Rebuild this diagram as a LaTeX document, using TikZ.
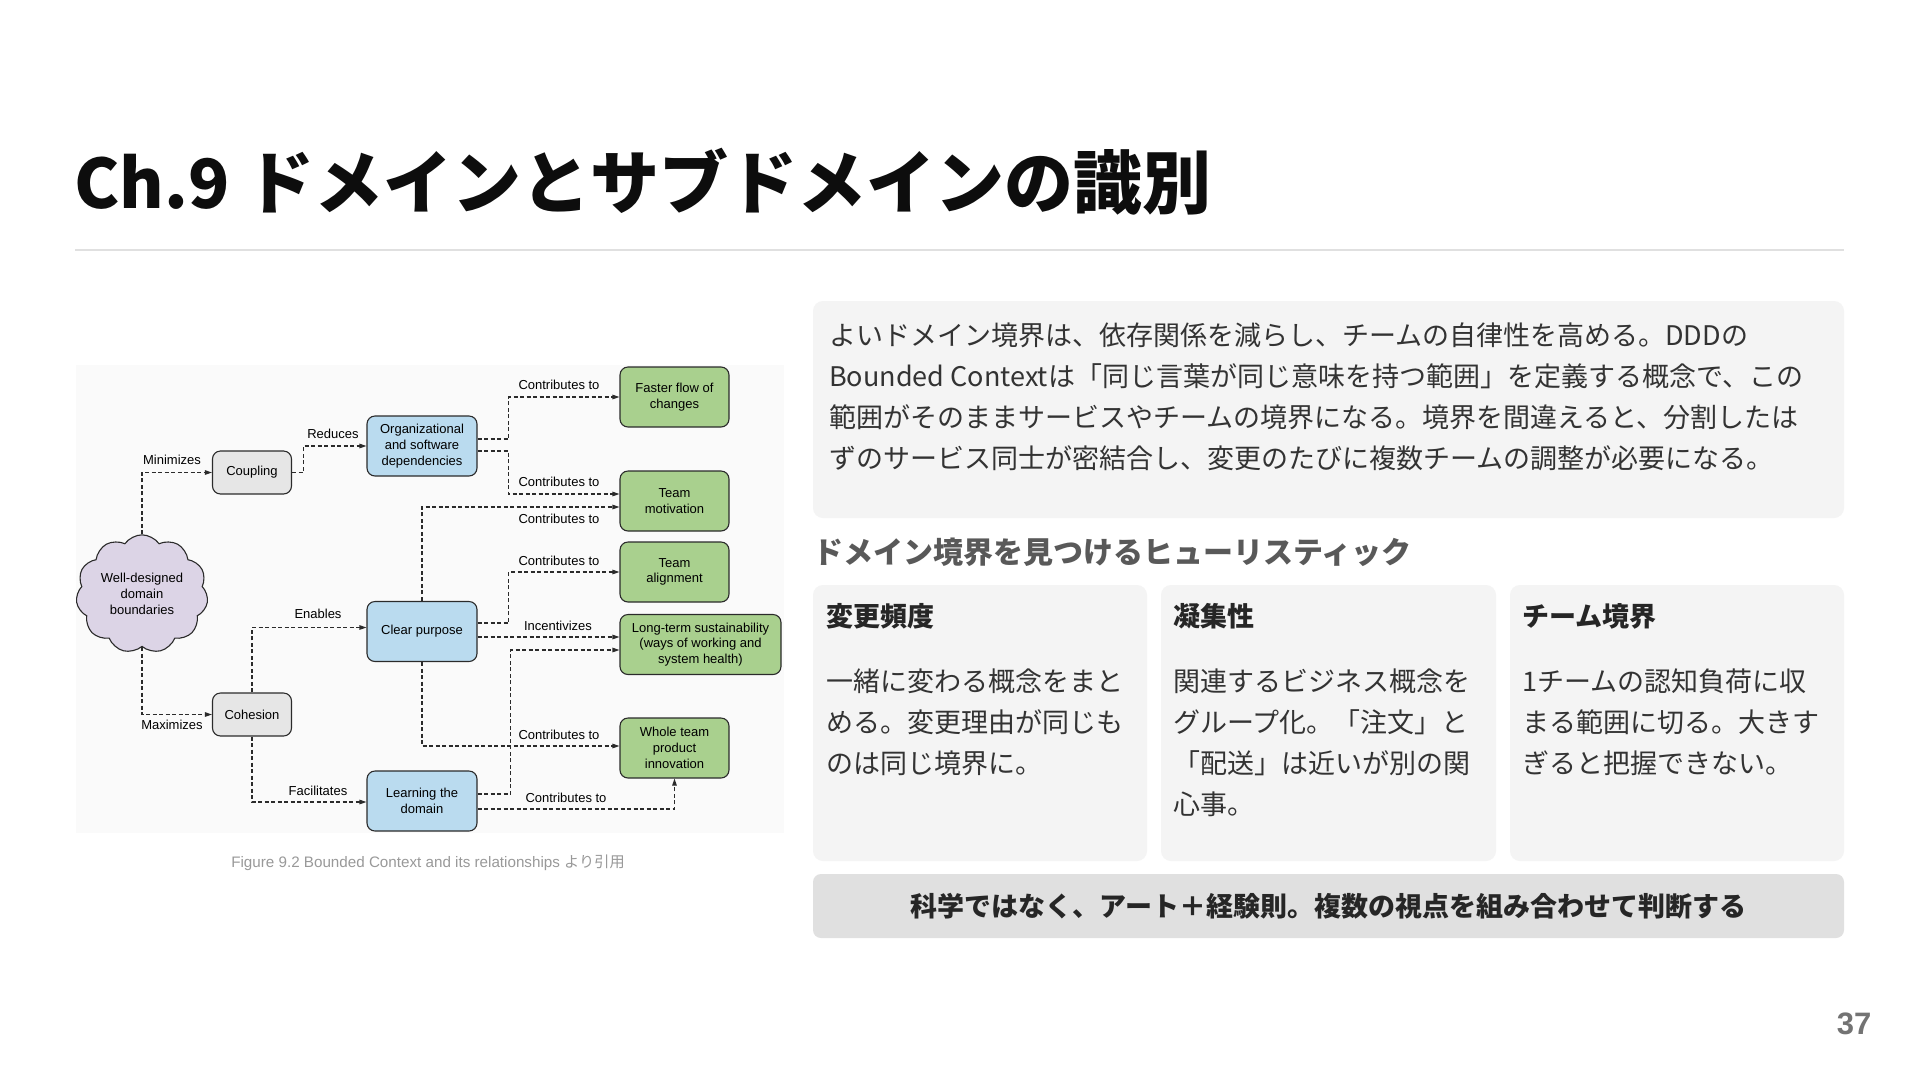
\documentclass[tikz,border=0pt]{standalone}
\usepackage{fontspec}
\setmainfont{Liberation Sans}
\newfontfamily\jp{Noto Sans CJK JP}
\usetikzlibrary{arrows.meta,shapes.symbols}
\definecolor{boxgray}{HTML}{E6E6E6}
\definecolor{boxblue}{HTML}{BADBEF}
\definecolor{boxgreen}{HTML}{A9D08E}
\definecolor{cloudlav}{HTML}{DCD4E6}
\definecolor{panel}{HTML}{F4F4F4}
\definecolor{bar}{HTML}{E0E0E0}
\definecolor{ink}{HTML}{2B2B2B}
\definecolor{bodytxt}{HTML}{333333}
\tikzset{
  dbox/.style={draw=ink, line width=1.1pt, rounded corners=8pt, align=center,
    font=\fontsize{13}{15.7}\selectfont, text=black, inner sep=2pt},
  gbox/.style={dbox, fill=boxgray, minimum width=79pt, minimum height=43pt},
  bbox/.style={dbox, fill=boxblue, minimum width=110pt, minimum height=60pt},
  grbox/.style={dbox, fill=boxgreen, minimum width=109pt, minimum height=60pt},
  conn/.style={draw=ink, line width=1.1pt, dash pattern=on 4pt off 2.5pt,
    -{Triangle[length=7pt,width=4.5pt]}},
  lab/.style={font=\fontsize{13}{15}\selectfont, text=black, inner sep=0pt},
  jptext/.style={font=\jp\fontsize{27}{41}\selectfont, text=bodytxt, align=left, inner sep=0pt, anchor=base west},
  cardtitle/.style={font=\jp\bfseries\fontsize{27}{32}\selectfont, text=black!85, inner sep=0pt, anchor=base west},
  card/.style={fill=panel, rounded corners=10pt, draw=none},
}
\begin{document}
\begin{tikzpicture}[x=1pt,y=-1pt]
\useasboundingbox (0,0) rectangle (1920,1080);
\fill[white] (0,0) rectangle (1920,1080);

% title
\node[anchor=base west, inner sep=0pt, font=\jp\bfseries\fontsize{68}{80}\selectfont, text=black!95] (title) at (74,208) {Ch.9 {\fontsize{69}{80}\selectfont ドメインとサブドメインの識別}};
\draw[bar, line width=1.5pt] (75,250) -- (1844,250);

% diagram background
\fill[black!2] (76,365) rectangle (784,833);

% diagram nodes
\node[cloud, cloud puffs=11, cloud puff arc=110, aspect=1.1, draw=ink, line width=1.1pt, fill=cloudlav,
  minimum width=132pt, minimum height=118pt, align=center, inner sep=0pt,
  font=\fontsize{13}{15.7}\selectfont] (cloud) at (142,594) {Well-designed\\domain\\boundaries};
\node[gbox] (coupling) at (252,472.5) {Coupling};
\node[gbox] (cohesion) at (252,714.5) {Cohesion};
\node[bbox] (org) at (422,446) {Organizational\\and software\\dependencies};
\node[bbox] (clear) at (422,631.5) {Clear purpose};
\node[bbox] (learn) at (422,801) {Learning the\\domain};
\node[grbox] (faster) at (674.5,397) {Faster flow of\\changes};
\node[grbox] (motiv) at (674.5,501) {Team\\motivation};
\node[grbox] (align) at (674.5,572) {Team\\alignment};
\node[grbox, minimum width=161pt] (longterm) at (700.5,644.5) {Long-term sustainability\\(ways of working and\\system health)};
\node[grbox] (whole) at (674.5,748) {Whole team\\product\\innovation};

% connectors
\draw[conn] (cloud.north) |- (coupling.west);
\draw[conn] (coupling.east) -- ++(11,0) |- (org.west);
\draw[conn] ([yshift=7pt]org.east) -- ++(31,0) |- (faster.west);
\draw[conn] ([yshift=-5pt]org.east) -- ++(31,0) |- ([yshift=7pt]motiv.west);
\draw[conn] (clear.north) |- ([yshift=-6pt]motiv.west);
\draw[conn] ([yshift=8.5pt]clear.east) -- ++(31,0) |- (align.west);
\draw[conn] ([yshift=-5.5pt]clear.east) -- ([yshift=7.5pt]longterm.west);
\draw[conn] ([yshift=7pt]learn.east) -- ++(33,0) |- ([yshift=-5.5pt]longterm.west);
\draw[conn] (clear.south) |- ([yshift=2pt]whole.west);
\draw[conn] ([yshift=-8pt]learn.east) -| (whole.south);
\draw[conn] (cloud.south) |- (cohesion.west);
\draw[conn] (cohesion.north) |- ([yshift=4pt]clear.west);
\draw[conn] (cohesion.south) |- ([yshift=-1pt]learn.west);

% labels
\node[lab] (l1) at (172,460) {Minimizes};
\node[lab] (l2) at (333,434) {Reduces};
\node[lab] (l3) at (559,385) {Contributes to};
\node[lab] (l4) at (559,482) {Contributes to};
\node[lab] (l5) at (559,519) {Contributes to};
\node[lab] (l6) at (559,561) {Contributes to};
\node[lab] (l7) at (558,626) {Incentivizes};
\node[lab] (l8) at (559,735) {Contributes to};
\node[lab] (l9) at (566,798) {Contributes to};
\node[lab] (l10) at (172,725) {Maximizes};
\node[lab] (l11) at (318,614) {Enables};
\node[lab] (l12) at (318,791) {Facilitates};

% caption
\node[inner sep=0pt, text=black!40, font=\fontsize{15.2}{17}\selectfont] (caption) at (428,863) {Figure 9.2 Bounded Context and its relationships {\jp より引用}};

% top text panel
\fill[panel, rounded corners=10pt] (813,301) rectangle (1844,518);
\node[jptext] (intro) at (829,468) {よいドメイン境界は、依存関係を減らし、チームの自律性を高める。DDDの\\Bounded Contextは「同じ言葉が同じ意味を持つ範囲」を定義する概念で、この\\範囲がそのままサービスやチームの境界になる。境界を間違えると、分割したは\\ずのサービス同士が密結合し、変更のたびに複数チームの調整が必要になる。};

% heading
\node[anchor=base west, inner sep=0pt, font=\jp\bfseries\fontsize{30}{36}\selectfont, text=black!65] (heading) at (813,563) {ドメイン境界を見つけるヒューリスティック};

% cards
\fill[card] (813,585) rectangle (1147,861);
\fill[card] (1161,585) rectangle (1496,861);
\fill[card] (1510,585) rectangle (1844,861);
\node[cardtitle] (t1) at (826,626) {変更頻度};
\node[cardtitle] (t2) at (1173,626) {凝集性};
\node[cardtitle] (t3) at (1522,626) {チーム境界};
\node[jptext] (b1) at (826,773) {一緒に変わる概念をまと\\める。変更理由が同じも\\のは同じ境界に。};
\node[jptext] (b2) at (1173,814) {関連するビジネス概念を\\グループ化。「注文」と\\「配送」は近いが別の関\\心事。};
\node[jptext] (b3) at (1522,773) {1チームの認知負荷に収\\まる範囲に切る。大きす\\ぎると把握できない。};

% bottom bar
\fill[bar, rounded corners=8pt] (813,874) rectangle (1844,938);
\node[inner sep=0pt, font=\jp\bfseries\fontsize{27}{32}\selectfont, text=black!85] (summary) at (1328.5,906) {科学ではなく、アート＋経験則。複数の視点を組み合わせて判断する};

% page number
\node[inner sep=0pt, font=\bfseries\fontsize{31}{36}\selectfont, text=black!55] (page) at (1854,1024) {37};
\end{tikzpicture}
\end{document}
